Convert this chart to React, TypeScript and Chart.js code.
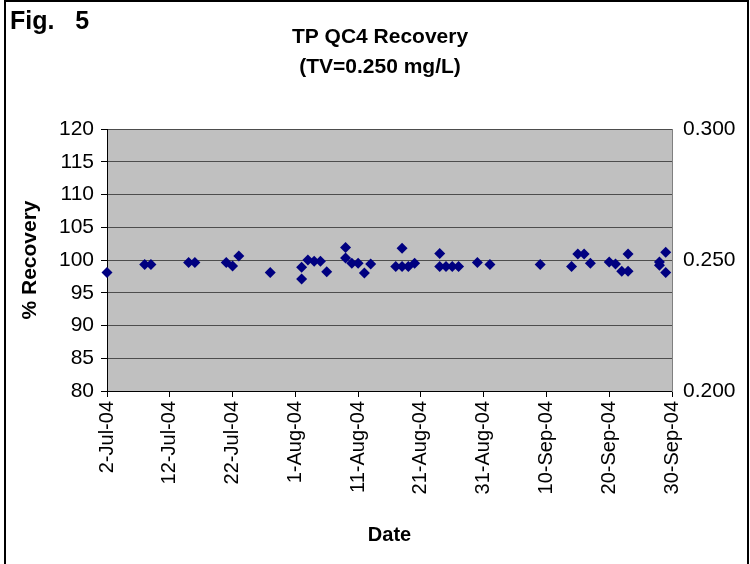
import React, { useEffect, useRef } from 'react';
import { Chart, registerables } from 'chart.js';

Chart.register(...registerables);

const FONT = "'Liberation Sans', Arial, sans-serif";

const titleLines = ['TP QC4 Recovery', '(TV=0.250 mg/L)'];
const figLabel = 'Fig.   5';
const xAxisTitle = 'Date';
const yAxisTitle = '% Recovery';

const monthNames = ['Jan', 'Feb', 'Mar', 'Apr', 'May', 'Jun', 'Jul', 'Aug', 'Sep', 'Oct', 'Nov', 'Dec'];
const startDate = '2-Jul-04';
const xTickLabels = ['2-Jul-04', '12-Jul-04', '22-Jul-04', '1-Aug-04', '11-Aug-04', '21-Aug-04', '31-Aug-04', '10-Sep-04', '20-Sep-04', '30-Sep-04'];

const sampleDates = [
  '2-Jul-04', '8-Jul-04', '9-Jul-04', '15-Jul-04', '16-Jul-04', '21-Jul-04', '22-Jul-04', '23-Jul-04', '28-Jul-04',
  '2-Aug-04', '2-Aug-04', '3-Aug-04', '4-Aug-04', '5-Aug-04', '6-Aug-04',
  '9-Aug-04', '9-Aug-04', '10-Aug-04', '11-Aug-04', '12-Aug-04', '13-Aug-04',
  '17-Aug-04', '18-Aug-04', '18-Aug-04', '19-Aug-04', '20-Aug-04',
  '24-Aug-04', '24-Aug-04', '25-Aug-04', '26-Aug-04', '27-Aug-04', '30-Aug-04', '1-Sep-04',
  '9-Sep-04', '14-Sep-04', '15-Sep-04', '16-Sep-04', '17-Sep-04', '20-Sep-04',
  '21-Sep-04', '22-Sep-04', '23-Sep-04', '23-Sep-04',
  '28-Sep-04', '28-Sep-04', '29-Sep-04', '29-Sep-04',
];
const recovery = [
  98.1, 99.3, 99.3, 99.6, 99.6, 99.6, 99.1, 100.6, 98.1,
  97.1, 98.9, 100.0, 99.8, 99.8, 98.2,
  101.9, 100.3, 99.5, 99.5, 98.0, 99.4,
  99.0, 101.8, 99.0, 99.0, 99.5,
  101.0, 99.0, 99.0, 99.0, 99.0, 99.6, 99.3,
  99.3, 99.0, 100.9, 100.9, 99.5, 99.7,
  99.4, 98.3, 100.9, 98.3,
  99.7, 99.2, 101.2, 98.1,
];

function parseDate(s: string): number {
  const [d, m, y] = s.split('-');
  return Date.UTC(2000 + Number(y), monthNames.indexOf(m), Number(d));
}
function dayOffset(s: string): number {
  return Math.round((parseDate(s) - parseDate(startDate)) / 86400000);
}

const framePlugin = {
  id: 'frameAndBg',
  beforeDraw(chart: any) {
    const { ctx, chartArea } = chart;
    ctx.save();
    ctx.fillStyle = '#ffffff';
    ctx.fillRect(0, 0, chart.width, chart.height);
    ctx.fillStyle = '#c0c0c0';
    ctx.fillRect(chartArea.left, chartArea.top, chartArea.right - chartArea.left, chartArea.bottom - chartArea.top);
    ctx.restore();
  },
  afterDraw(chart: any) {
    const { ctx } = chart;
    ctx.save();
    ctx.strokeStyle = '#000000';
    ctx.lineWidth = 2;
    ctx.beginPath();
    ctx.moveTo(5, chart.height);
    ctx.lineTo(5, 1);
    ctx.lineTo(748, 1);
    ctx.lineTo(748, chart.height);
    ctx.stroke();
    ctx.fillStyle = '#000000';
    ctx.font = `bold 25px ${FONT}`;
    ctx.textAlign = 'left';
    ctx.textBaseline = 'alphabetic';
    ctx.fillText(figLabel, 10, 29);
    ctx.restore();
  },
};

export default function App() {
  const ref = useRef<HTMLCanvasElement | null>(null);
  useEffect(() => {
    if (!ref.current) return;
    const points = sampleDates.map((d, i) => ({ x: dayOffset(d), y: recovery[i] }));
    const chart = new Chart(ref.current, {
      type: 'scatter',
      data: {
        datasets: [
          {
            label: 'Recovery',
            data: points,
            yAxisID: 'y',
            clip: false,
            pointStyle: 'rectRot',
            pointRadius: 5.5,
            pointBackgroundColor: '#000080',
            pointBorderColor: '#000080',
            pointBorderWidth: 0,
          },
        ],
      },
      options: {
        responsive: false,
        animation: false,
        layout: { padding: { left: 10, right: 0, top: 0, bottom: 0 } },
        plugins: {
          legend: { display: false },
          tooltip: { enabled: false },
          title: {
            display: true,
            text: titleLines,
            color: '#000',
            font: { family: FONT, size: 21, weight: 'bold', lineHeight: '30px' },
            padding: { top: 22, bottom: 47 },
          },
        },
        scales: {
          x: {
            type: 'linear',
            position: 'bottom',
            min: 0,
            max: 90,
            afterFit: (s: any) => { s.height = 564 - 391; },
            ticks: {
              stepSize: 10,
              autoSkip: false,
              minRotation: 90,
              maxRotation: 90,
              padding: 4,
              color: '#000',
              font: { family: FONT, size: 20 },
              callback: (_v: any, i: number) => xTickLabels[i],
            },
            grid: { drawOnChartArea: false, drawTicks: true, tickLength: 6, color: '#000', tickColor: '#000' },
            border: { display: true, color: '#000', width: 1 },
            title: {
              display: true,
              text: xAxisTitle,
              color: '#000',
              font: { family: FONT, size: 20, weight: 'bold' },
              padding: { top: 0, bottom: 17 },
            },
          },
          y: {
            type: 'linear',
            position: 'left',
            min: 80,
            max: 120,
            afterFit: (s: any) => { s.width = 107 - 10; },
            ticks: {
              stepSize: 5,
              padding: 7,
              color: '#000',
              font: { family: FONT, size: 21 },
            },
            grid: { color: '#4d4d4d', lineWidth: 1, drawTicks: true, tickLength: 6, tickColor: '#000' },
            border: { display: true, color: '#000', width: 1 },
            title: {
              display: true,
              text: yAxisTitle,
              color: '#000',
              font: { family: FONT, size: 21, weight: 'bold' },
              padding: { top: 8, bottom: 0 },
            },
          },
          y2: {
            type: 'linear',
            position: 'right',
            display: true,
            min: 0.2,
            max: 0.3,
            afterFit: (s: any) => { s.width = 750 - 672; },
            ticks: {
              stepSize: 0.05,
              padding: 11,
              color: '#000',
              font: { family: FONT, size: 21 },
              callback: (v: any) => Number(v).toFixed(3),
            },
            grid: { display: false, drawTicks: false },
            border: { display: true, color: '#808080', width: 1 },
          },
        },
      },
      plugins: [framePlugin],
    } as any);
    return () => chart.destroy();
  }, []);
  return (
    <div style={{ position: 'absolute', left: 0, top: 0, width: 750, height: 564 }}>
      <canvas ref={ref} width={750} height={564} style={{ width: 750, height: 564, display: 'block' }} />
    </div>
  );
}
